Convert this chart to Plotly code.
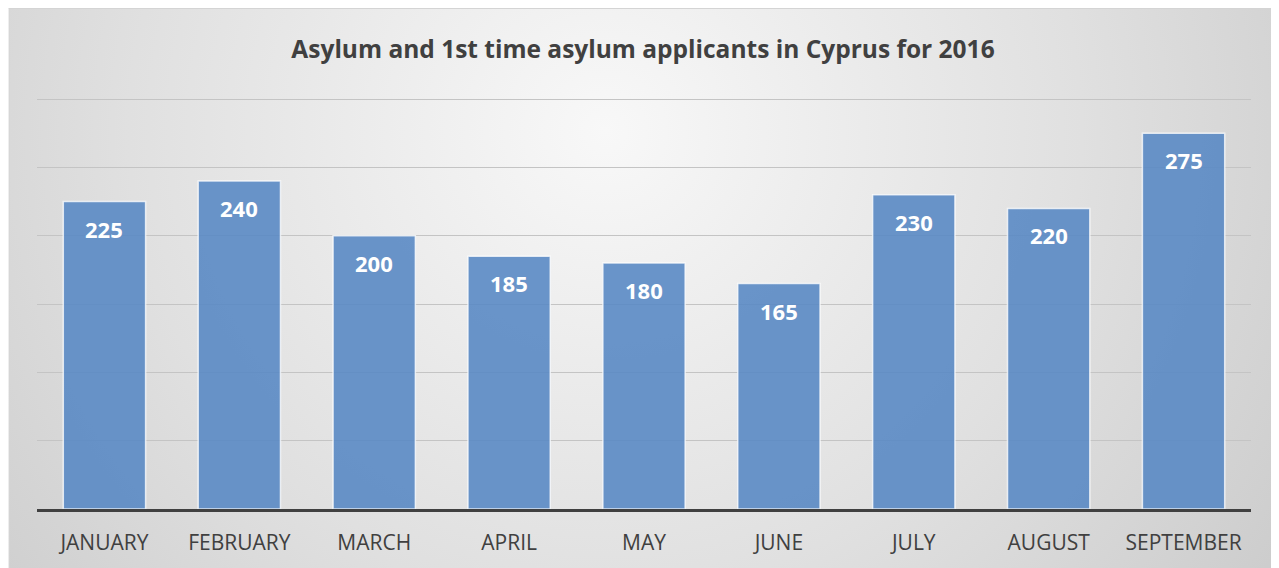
import plotly.graph_objects as go
import urllib.parse

months = ["JANUARY", "FEBRUARY", "MARCH", "APRIL", "MAY", "JUNE", "JULY", "AUGUST", "SEPTEMBER"]
applicants = [225, 240, 200, 185, 180, 165, 230, 220, 275]
title_text = "Asylum and 1st time asylum applicants in Cyprus for 2016"

W, H = 1271, 560
L, R, T, B = 28.5, 27.5, 90, 59
pw, ph = W - L - R, H - T - B

svg = (
    f"<svg xmlns='http://www.w3.org/2000/svg' width='{W}' height='{H}' viewBox='0 0 {W} {H}' preserveAspectRatio='none'>"
    "<defs><radialGradient id='g' cx='0.47' cy='0.22' r='0.75' gradientTransform='translate(0.47 0.22) scale(1 2.2) translate(-0.47 -0.22)'>"
    "<stop offset='0' stop-color='#f8f8f8'/><stop offset='0.5' stop-color='#e0e0e0'/><stop offset='1' stop-color='#c4c4c4'/>"
    "</radialGradient></defs>"
    f"<rect x='0' y='0' width='{W}' height='{H}' fill='url(#g)'/>"
    f"<line x1='0' y1='0.5' x2='{W}' y2='0.5' stroke='#d4d4d4' stroke-width='1'/>"
    f"<line x1='0.5' y1='0' x2='0.5' y2='{H}' stroke='#d4d4d4' stroke-width='1'/></svg>"
)
src = "data:image/svg+xml;charset=utf-8," + urllib.parse.quote(svg)

fig = go.Figure()
fig.add_trace(go.Bar(
    x=months, y=applicants,
    marker=dict(color="rgba(90,138,196,0.9)", line=dict(color="rgba(255,255,255,0.75)", width=1.5)),
    hoverinfo="x+y",
))

for m, v in zip(months, applicants):
    fig.add_annotation(x=m, y=v, text=f"<b>{v}</b>", showarrow=False, yanchor="middle", yshift=-27,
                       font=dict(family="Open Sans", size=22, color="white"))

fig.update_layout(
    width=W, height=H,
    margin=dict(l=L, r=R, t=T, b=B, pad=0),
    paper_bgcolor="white", plot_bgcolor="rgba(0,0,0,0)",
    bargap=0.39,
    showlegend=False,
    title=dict(text=f"<b>{title_text}</b>", x=(643 - 8) / W, xanchor="center", y=1 - (49 - 8) / H,
               yanchor="middle", font=dict(family="Open Sans", size=24.5, color="#404040")),
    images=[dict(source=src, xref="paper", yref="paper", x=-L / pw, y=1 + T / ph,
                 sizex=W / pw, sizey=H / ph, xanchor="left", yanchor="top",
                 sizing="stretch", layer="below")],
    xaxis=dict(showgrid=False, showline=True, linecolor="#404040", linewidth=3,
               ticks="outside", ticklen=13, tickcolor="rgba(0,0,0,0)",
               tickfont=dict(family="Open Sans", size=21, color="#404040")),
    yaxis=dict(range=[0, 300.8], dtick=50, showgrid=True, gridcolor="#c4c4c4", gridwidth=1,
               showticklabels=False, zeroline=False),
)

fig.write_html("out.html")
